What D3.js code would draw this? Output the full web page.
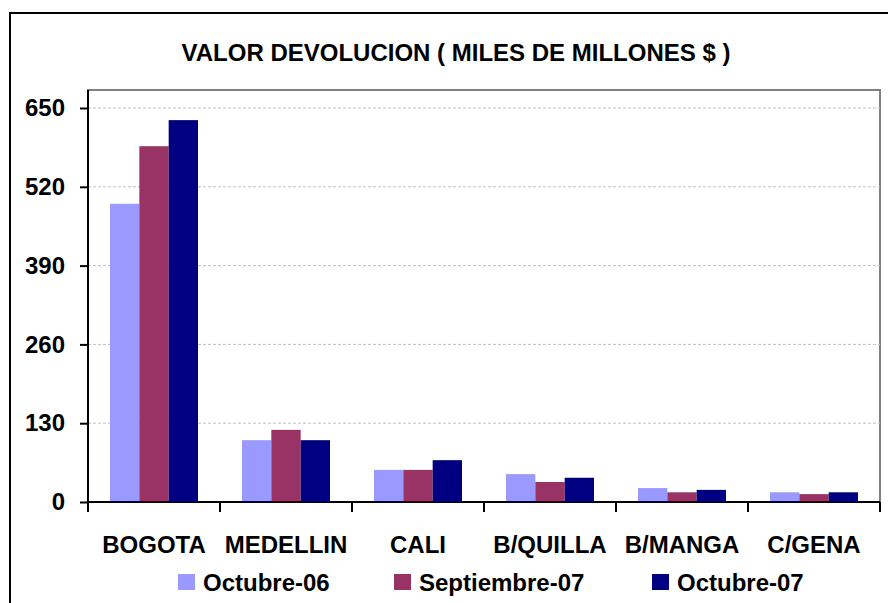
<!DOCTYPE html>
<html>
<head>
<meta charset="utf-8">
<script src="https://cdn.jsdelivr.net/npm/d3@7"></script>
<style>
  body { margin: 0; background: #fff; }
  text { font-family: "Liberation Sans", Arial, sans-serif; font-weight: bold; fill: #000; }
</style>
</head>
<body>
<div id="chart"></div>
<script>
let categories = ['BOGOTA', 'MEDELLIN', 'CALI', 'B/QUILLA', 'B/MANGA', 'C/GENA'];
let seriesNames = ['Octubre-06', 'Septiembre-07', 'Octubre-07'];
let octubre06 = [492, 102, 53, 46, 23, 16];
let septiembre07 = [587, 119, 53, 33, 16, 13];
let octubre07 = [630, 102, 69, 40, 20, 16];
let yTicks = [0, 130, 260, 390, 520, 650];
let colors = ['#9999ff', '#993366', '#000080'];

let width = 888, height = 603;
let margin = { "top": 90, "bottom": 101, "right": 8, "left": 88 };
let fontSize = '24px';

let svg = d3.select('#chart').append('svg').attr('width', width).attr('height', height);

// outer frame (runs off the page on the right and bottom)
svg.append('rect')
    .attr('x', 10).attr('y', 13)
    .attr('width', 900).attr('height', 620)
    .attr('fill', 'none').attr('stroke', '#000').attr('stroke-width', 2);

svg.append('text')
    .attr('x', 456).attr('y', 61)
    .attr('text-anchor', 'middle')
    .style('font-size', fontSize)
    .text('VALOR DEVOLUCION ( MILES DE MILLONES $ )');

let plotBottom = height - margin.bottom;
let x0 = d3.scaleBand().domain(categories).range([margin.left, width - margin.right]);
let x1 = d3.scaleBand().domain(seriesNames).range([0, x0.bandwidth()]).paddingOuter(0.75);
let y = d3.scaleLinear().domain([0, 650]).range([plotBottom, 108]);

// plot border
svg.append('rect')
    .attr('x', margin.left).attr('y', margin.top)
    .attr('width', width - margin.right - margin.left)
    .attr('height', plotBottom - margin.top)
    .attr('fill', 'none').attr('stroke', '#808080').attr('stroke-width', 2);

// gridlines
svg.append('g')
    .selectAll('line')
    .data(yTicks.slice(1))
    .enter()
    .append('line')
    .attr('x1', margin.left).attr('x2', width - margin.right)
    .attr('y1', d => y(d)).attr('y2', d => y(d))
    .attr('stroke', '#c0c0c0').attr('stroke-width', 1)
    .attr('stroke-dasharray', '3,2');

// bars
let seriesData = [octubre06, septiembre07, octubre07];
seriesData.forEach(function (vals, s) {
    svg.append('g')
        .selectAll('rect')
        .data(vals)
        .enter()
        .append('rect')
        .attr('x', (d, i) => x0(categories[i]) + x1(seriesNames[s]))
        .attr('y', d => y(d))
        .attr('width', x1.bandwidth())
        .attr('height', d => plotBottom - y(d))
        .attr('fill', colors[s]);
});

// y axis
let yAxis = d3.axisLeft(y).tickValues(yTicks).tickSize(8).tickPadding(15);
let gy = svg.append('g')
    .attr('transform', 'translate(' + margin.left + ',0)')
    .call(yAxis);
gy.select('.domain').remove();
gy.selectAll('.tick line').attr('stroke', '#000').attr('stroke-width', 2);
gy.selectAll('.tick text').style('font-size', fontSize).attr('font-family', null);
svg.append('line')
    .attr('x1', margin.left).attr('x2', margin.left)
    .attr('y1', margin.top).attr('y2', plotBottom + 10)
    .attr('stroke', '#000').attr('stroke-width', 2);

// x axis
svg.append('line')
    .attr('x1', margin.left).attr('x2', width - margin.right)
    .attr('y1', plotBottom).attr('y2', plotBottom)
    .attr('stroke', '#000').attr('stroke-width', 2);
let bounds = categories.map(c => x0(c)).concat([width - margin.right]);
svg.append('g')
    .selectAll('line')
    .data(bounds)
    .enter()
    .append('line')
    .attr('x1', d => d).attr('x2', d => d)
    .attr('y1', plotBottom).attr('y2', plotBottom + 10)
    .attr('stroke', '#000').attr('stroke-width', 2);
svg.append('g')
    .selectAll('text')
    .data(categories)
    .enter()
    .append('text')
    .attr('x', d => x0(d) + x0.bandwidth() / 2)
    .attr('y', plotBottom + 51)
    .attr('text-anchor', 'middle')
    .style('font-size', fontSize)
    .text(d => d);

// legend
let legendX = [178, 394, 652];
let legend = svg.append('g')
    .selectAll('g')
    .data(seriesNames)
    .enter()
    .append('g')
    .attr('transform', (d, i) => 'translate(' + legendX[i] + ',574)');
legend.append('rect')
    .attr('width', 17).attr('height', 16)
    .attr('fill', (d, i) => colors[i]);
legend.append('text')
    .attr('x', 25).attr('y', 17)
    .style('font-size', fontSize)
    .text(d => d);
</script>
</body>
</html>
